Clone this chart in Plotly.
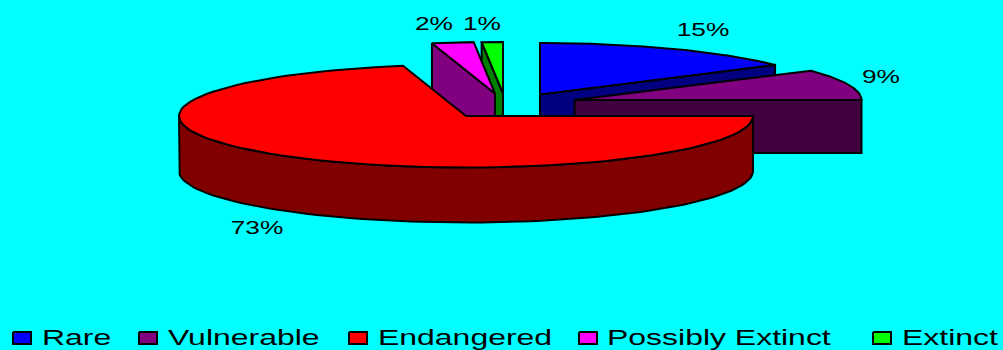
import numpy as np
import plotly.graph_objects as go

# Share of species in each conservation status, percent
categories = ["Rare", "Vulnerable", "Endangered", "Possibly Extinct", "Extinct"]
values = [15, 9, 73, 2, 1]
top_colors = ["#0000FF", "#800080", "#FF0000", "#FF00FF", "#00FF00"]
side_colors = ["#000080", "#400040", "#800000", "#800080", "#008000"]

# Pie geometry in page pixels
RX, RY = 287, 51.5
HUBS = {"Rare": (540, 94.5), "Vulnerable": (574.5, 100), "Endangered": (466, 116),
        "Possibly Extinct": (495, 93.5), "Extinct": (503, 93.5)}
DEPTHS = {"Rare": 54, "Vulnerable": 53, "Endangered": 55, "Possibly Extinct": 54, "Extinct": 54}
LABEL_POS = {"Rare": (703, 31), "Vulnerable": (881, 78), "Endangered": (257, 229),
             "Possibly Extinct": (434, 25), "Extinct": (482, 25)}
LEGEND_BOX_X = [13, 139, 349, 579, 873]
LEGEND_TEXT_X = [42, 168, 378, 607, 902]
LEGEND_Y = 338


def skew(deg):
    """Angular distortion of the oblique 3D projection."""
    r = np.radians(deg)
    return deg + 12.3 * np.sin(r) - 11.8 * np.sin(2 * r) + 7.33 * np.sin(3 * r)


def rim(hub, a0, a1, dy=0.0):
    """Points along the elliptical rim, angles clockwise from north."""
    t = np.radians(np.linspace(a0, a1, 90))
    return hub[0] + RX * np.sin(t), hub[1] - RY * np.cos(t) + dy


fig = go.Figure()


def polygon(xs, ys, color):
    fig.add_trace(go.Scatter(
        x=xs, y=ys, mode="lines", fill="toself", fillcolor=color,
        line=dict(color="#000000", width=2), hoverinfo="skip", showlegend=False,
    ))


edges = np.concatenate([[0], np.cumsum(values)]) * 3.6
spans = {c: (skew(edges[i]), skew(edges[i + 1])) for i, c in enumerate(categories)}


def top_face(name):
    hub = HUBS[name]
    x, y = rim(hub, *spans[name])
    return np.r_[hub[0], x, hub[0]], np.r_[hub[1], y, hub[1]]


def radial_wall(name, angle):
    hub, d = HUBS[name], DEPTHS[name]
    x, y = rim(hub, angle, angle)
    ex, ey = x[0], y[0]
    return [hub[0], ex, ex, hub[0], hub[0]], [hub[1], ey, ey + d, hub[1] + d, hub[1]]


colors = dict(zip(categories, zip(top_colors, side_colors)))

# Slices are painted back to front so nearer ones hide what lies behind them
for name, wall_angle in [("Extinct", spans["Extinct"][0]),
                         ("Possibly Extinct", spans["Possibly Extinct"][0])]:
    polygon(*radial_wall(name, wall_angle), colors[name][1])
    polygon(*top_face(name), colors[name][0])

polygon(*radial_wall("Rare", spans["Rare"][1]), colors["Rare"][1])
polygon(*top_face("Rare"), colors["Rare"][0])

polygon(*radial_wall("Vulnerable", spans["Vulnerable"][1]), colors["Vulnerable"][1])
polygon(*top_face("Vulnerable"), colors["Vulnerable"][0])

# The large slice shows its curved outer wall along the near half of the rim
hub = HUBS["Endangered"]
ax, ay = rim(hub, 90, 270)
bx, by = rim(hub, 270, 90, DEPTHS["Endangered"])
polygon(np.r_[ax, bx, ax[0]], np.r_[ay, by, ay[0]], colors["Endangered"][1])
polygon(*top_face("Endangered"), colors["Endangered"][0])

# Percentage labels
fig.add_trace(go.Scatter(
    x=[LABEL_POS[c][0] for c in categories],
    y=[LABEL_POS[c][1] for c in categories],
    text=[f"{v}%" for v in values],
    mode="text", textposition="middle center",
    textfont=dict(family="Liberation Sans", size=18.5, color="#000000"),
    hoverinfo="skip", showlegend=False,
))

# Legend row along the bottom edge
for bx0, color in zip(LEGEND_BOX_X, top_colors):
    polygon([bx0, bx0 + 18, bx0 + 18, bx0, bx0],
            [LEGEND_Y - 6, LEGEND_Y - 6, LEGEND_Y + 6, LEGEND_Y + 6, LEGEND_Y - 6], color)

fig.add_trace(go.Scatter(
    x=LEGEND_TEXT_X, y=[LEGEND_Y + 1] * len(categories), text=categories,
    mode="text", textposition="middle right",
    textfont=dict(family="Liberation Sans", size=22.5, color="#000000"),
    hoverinfo="skip", showlegend=False,
))

fig.update_layout(
    width=1003, height=350, margin=dict(l=0, r=0, t=0, b=0),
    paper_bgcolor="#00FFFF", plot_bgcolor="#00FFFF", showlegend=False,
    xaxis=dict(range=[0, 1003], visible=False, fixedrange=True),
    yaxis=dict(range=[350, 0], visible=False, fixedrange=True),
)

# All text is set in a horizontally extended cut
widen = """
document.querySelectorAll('.textpoint text').forEach(function (t) {
  t.setAttribute('textLength', t.getComputedTextLength() * 1.42);
  t.setAttribute('lengthAdjust', 'spacingAndGlyphs');
});
"""

fig.write_html("out.html", config={"displayModeBar": False}, post_script=widen)
